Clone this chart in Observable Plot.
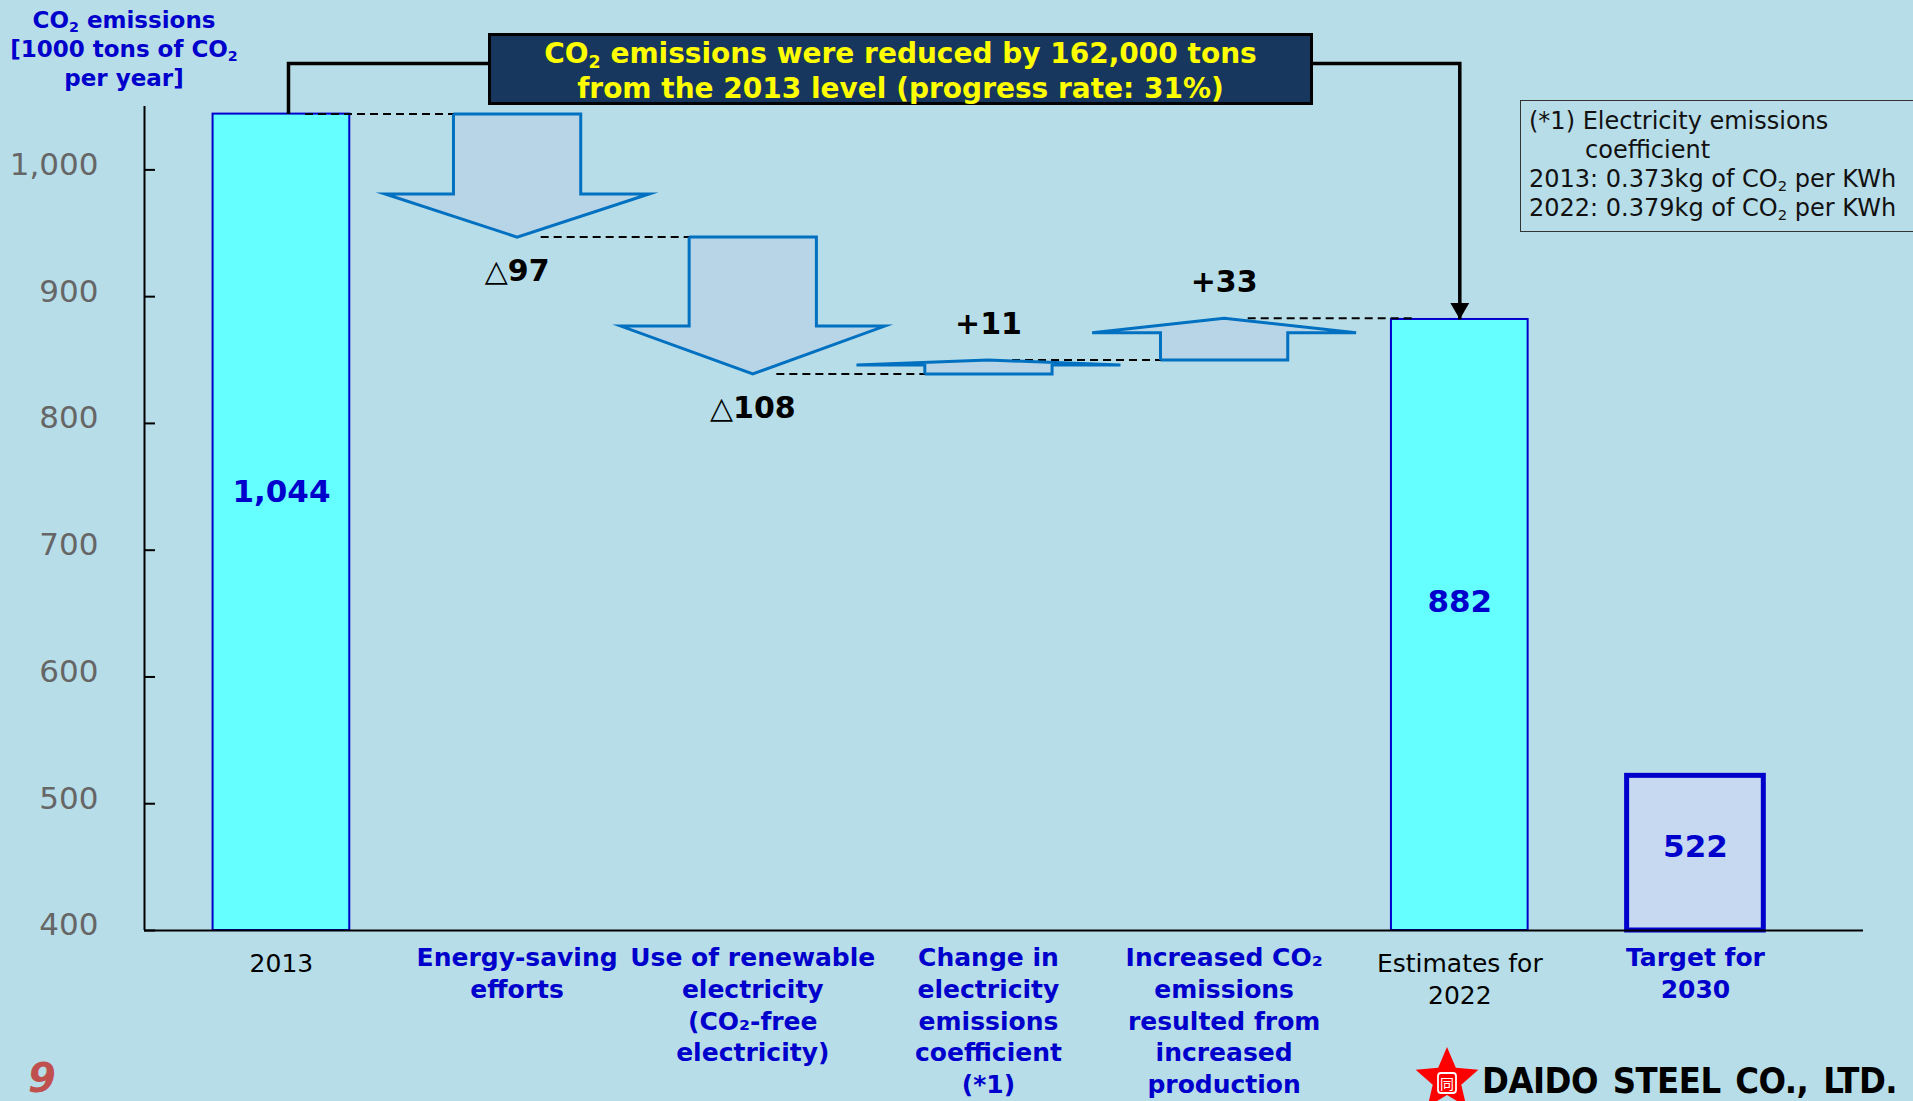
<!DOCTYPE html>
<html>
<head>
<meta charset="utf-8">
<script src="https://cdn.jsdelivr.net/npm/d3@7"></script>
<script src="https://cdn.jsdelivr.net/npm/@observablehq/plot@0.6"></script>
<style>
  html, body { margin: 0; padding: 0; background: #B7DDE8; overflow: hidden; }
  body { width: 1913px; height: 1101px; position: relative; font-family: "DejaVu Sans", Verdana, sans-serif; }
  #chart { position: absolute; left: 0; top: 0; }
  sub { font-size: 0.62em; vertical-align: -0.28em; line-height: 0; }
  .ytitle { position: absolute; left: 0; top: 6px; width: 248px; text-align: center; color: #0000CC;
            font-weight: bold; font-size: 23px; line-height: 29px; }
  .callout { position: absolute; left: 488px; top: 33px; width: 819px; height: 66px; background: #17375E;
             border: 3px solid #000; color: #FFFF00; font-weight: bold; font-size: 28px; line-height: 35px;
             text-align: center; white-space: nowrap; }
  .note { position: absolute; left: 1520px; top: 100px; width: 440px; height: 132px; border: 1.5px solid #333;
          box-sizing: border-box; padding: 6px 0 0 8px; font-size: 24px; line-height: 29px; color: #111; white-space: nowrap; }
  .note .ind { padding-left: 56px; }
  .page { position: absolute; left: 28px; top: 1058px; font-size: 40px; line-height: 40px; font-weight: bold;
          font-style: italic; color: #C0504D; }
  #logo { position: absolute; left: 1410px; top: 1040px; }
  .name { position: absolute; left: 1482px; top: 1062px; font-family: "DejaVu Sans Condensed", "DejaVu Sans"; font-weight: bold;
          font-size: 36px; line-height: 38px; color: #000; word-spacing: 4px; letter-spacing: -0.5px; white-space: nowrap; }
</style>
</head>
<body>
<div id="chart"></div>
<div class="ytitle">CO<sub>2</sub> emissions<br>[1000 tons of CO<sub>2</sub><br>per year]</div>
<div class="callout">CO<sub>2</sub> emissions were reduced by 162,000 tons<br>from the 2013 level (progress rate: 31%)</div>
<div class="note">
  <div>(*1) Electricity emissions</div>
  <div class="ind">coefficient</div>
  <div>2013: 0.373kg of CO<sub>2</sub> per KWh</div>
  <div>2022: 0.379kg of CO<sub>2</sub> per KWh</div>
</div>
<div class="page">9</div>
<svg id="logo" width="80" height="61"></svg>
<div class="name">DAIDO STEEL CO., LTD.</div>
<script>
// Categories along the horizontal axis, left to right
const categories = [
  "2013",
  "Energy-saving efforts",
  "Use of renewable electricity (CO₂-free electricity)",
  "Change in electricity emissions coefficient (*1)",
  "Increased CO₂ emissions resulted from increased production",
  "Estimates for 2022",
  "Target for 2030"
];
const tickLabels = [
  "2013",
  "Energy-saving\nefforts",
  "Use of renewable\nelectricity\n(CO₂-free\nelectricity)",
  "Change in\nelectricity\nemissions\ncoefficient\n(*1)",
  "Increased CO₂\nemissions\nresulted from\nincreased\nproduction",
  "Estimates for\n2022",
  "Target for\n2030"
];
const boldLabels = [false, true, true, true, true, false, true];

// Total bars (1000 t-CO2 per year)
const totalCategories = ["2013", "Estimates for 2022", "Target for 2030"];
const totalValues = [1044, 882, 522];

// Changes between 2013 and 2022
const stepCategories = [
  "Energy-saving efforts",
  "Use of renewable electricity (CO₂-free electricity)",
  "Change in electricity emissions coefficient (*1)",
  "Increased CO₂ emissions resulted from increased production"
];
const stepValues = [-97, -108, 11, 33];

const yTicks = [400, 500, 600, 700, 800, 900, 1000];

// ---- derived tables ----
const idx = c => categories.indexOf(c);
const totals = totalCategories.map((c, k) => ({i: idx(c), value: totalValues[k]}));

let level = totalValues[0];
const steps = stepCategories.map((c, k) => {
  const from = level, to = level + stepValues[k];
  level = to;
  return {i: idx(c), from, to, change: stepValues[k]};
});

// block arrow outline for each change
const SHAFT = 0.27, WING = 0.56, HEAD = 0.35;
const arrowPts = steps.flatMap((s, k) => {
  const neck = s.to - (s.to - s.from) * HEAD;
  const c = s.i;
  return [
    [c - SHAFT, s.from], [c + SHAFT, s.from], [c + SHAFT, neck], [c + WING, neck],
    [c, s.to], [c - WING, neck], [c - SHAFT, neck], [c - SHAFT, s.from]
  ].map(([x, y]) => ({id: k, x, y}));
});

// dashed connectors from each level to the next column
const levels = [totalValues[0], ...steps.map(s => s.to)];
const connectors = levels.map((v, k) => ({x1: k + 0.1, x2: k + 1 - 0.2, y: v}));

const estimate = totals[1];
const bracketTop = 1084;
const bracket = [
  {x: totals[0].i + 0.03, y: totals[0].value},
  {x: totals[0].i + 0.03, y: bracketTop},
  {x: estimate.i, y: bracketTop},
  {x: estimate.i, y: estimate.value}
];

const xDomain = [-0.581, 6.713];
const W = 1913, H = 1101, mL = 144, mR = 50, mT = 106, mB = 171;
const frameW = W - mL - mR;
const labelRows = tickLabels.map((t, i) => ({t, i}));

const chart = Plot.plot({
  width: W, height: H,
  marginLeft: mL, marginRight: mR, marginTop: mT, marginBottom: mB,
  style: {background: "transparent", fontFamily: "DejaVu Sans, Verdana, sans-serif", overflow: "visible"},
  x: {domain: xDomain, axis: null},
  y: {domain: [400, 1050], axis: null},
  marks: [
    // total bars
    Plot.rect(totals.slice(0, 2), {x1: d => d.i - 0.29, x2: d => d.i + 0.29, y1: 400, y2: "value",
      fill: "#66FFFF", stroke: "#0000CC", strokeWidth: 2}),
    Plot.rect(totals.slice(2), {x1: d => d.i - 0.29, x2: d => d.i + 0.29, y1: 400, y2: "value",
      fill: "#C6D9F1", stroke: "#0000CC", strokeWidth: 5}),
    // dashed level connectors
    Plot.link(connectors, {x1: "x1", x2: "x2", y1: "y", y2: "y", stroke: "#000", strokeWidth: 2,
      strokeDasharray: "8,5"}),
    // change arrows
    Plot.line(arrowPts, {x: "x", y: "y", z: "id", fill: "#B7D5E7", stroke: "#0070C0", strokeWidth: 3,
      strokeLinejoin: "miter", strokeMiterlimit: 10, strokeLinecap: "butt"}),
    // axes
    Plot.ruleY([400], {stroke: "#000", strokeWidth: 2}),
    Plot.ruleX([xDomain[0]], {y1: 400, y2: 1050, stroke: "#000", strokeWidth: 2}),
    Plot.tickY(yTicks, {y: d => d, insetRight: frameW - 11, stroke: "#000", strokeWidth: 2}),
    Plot.text(yTicks, {y: d => d, x: xDomain[0], text: d => d3.format(",")(d), textAnchor: "end",
      dx: -46, dy: -5, fill: "#666", fontSize: 31}),
    // category labels
    Plot.text(labelRows.filter(d => boldLabels[d.i]), {x: "i", y: 400, text: "t",
      lineAnchor: "top", lineHeight: 1.27, dy: 13, fill: "#0000CC", fontWeight: "bold", fontSize: 25}),
    Plot.text(labelRows.filter(d => !boldLabels[d.i]), {x: "i", y: 400, text: "t",
      lineAnchor: "top", lineHeight: 1.27, dy: 19, fill: "#000", fontSize: 25}),
    // values
    Plot.text(totals, {x: "i", y: d => 400 + (d.value - 400) * 0.537, text: d => d3.format(",")(d.value),
      fill: "#0000CC", fontWeight: "bold", fontSize: 31}),
    Plot.text(steps.filter(s => s.change < 0), {x: "i", y: "to", text: d => "△" + Math.abs(d.change),
      dy: 34, fill: "#000", fontWeight: "bold", fontSize: 30}),
    Plot.text(steps.filter(s => s.change > 0), {x: "i", y: "to", text: d => "+" + d.change,
      dy: -36, fill: "#000", fontWeight: "bold", fontSize: 30}),
    // bracket from 2013 to the 2022 estimate
    Plot.line(bracket, {x: "x", y: "y", stroke: "#000", strokeWidth: 3.5, strokeLinejoin: "miter",
      strokeMiterlimit: 10, strokeLinecap: "butt"}),
    Plot.dot([estimate], {x: "i", y: "value", symbol: "triangle", r: 7, rotate: 180, dy: -11,
      fill: "#000", stroke: "none"})
  ]
});

// delta sign drawn in regular weight
d3.select(chart).selectAll("text").each(function() {
  const t = this.textContent;
  if (t.startsWith("△")) {
    const s = d3.select(this);
    s.text(null);
    s.append("tspan").attr("font-weight", "normal").text("△");
    s.append("tspan").text(t.slice(1));
  }
});

document.getElementById("chart").append(chart);

// company mark: red star with the emblem
const logo = d3.select("#logo");
const R = 33, r = 15, cx = 37, cy = 40;
const starPts = d3.range(10).map(k => {
  const a = -Math.PI / 2 + k * Math.PI / 5, rr = k % 2 ? r : R;
  return [cx + rr * Math.cos(a), cy + rr * Math.sin(a)];
});
logo.append("polygon").attr("points", starPts.map(p => p.join(",")).join(" ")).attr("fill", "#FF0000");
logo.append("rect").attr("x", cx - 9).attr("y", cy - 7).attr("width", 18).attr("height", 20).attr("rx", 3)
  .attr("fill", "none").attr("stroke", "#fff").attr("stroke-width", 1.8);
logo.append("text").attr("x", cx).attr("y", cy + 9).attr("text-anchor", "middle").attr("fill", "#fff")
  .attr("font-family", "Noto Sans CJK JP").attr("font-size", 14).text("同");
</script>
</body>
</html>
